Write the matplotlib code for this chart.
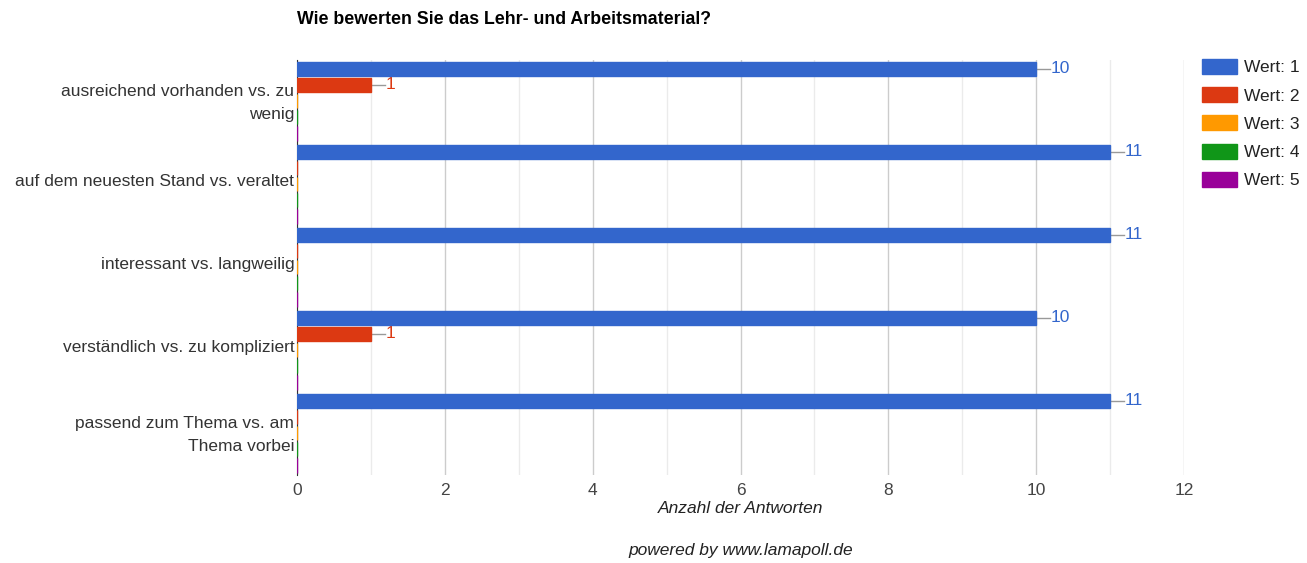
import matplotlib.pyplot as plt
import numpy as np

plt.rcParams['font.family'] = ['Liberation Sans', 'DejaVu Sans']

# Daten
kategorien = ["ausreichend vorhanden vs. zu\nwenig",
              "auf dem neuesten Stand vs. veraltet",
              "interessant vs. langweilig",
              "verständlich vs. zu kompliziert",
              "passend zum Thema vs. am\nThema vorbei"]
serien = ["Wert: 1", "Wert: 2", "Wert: 3", "Wert: 4", "Wert: 5"]
wert1 = [10, 11, 11, 10, 11]
wert2 = [1, 0, 0, 1, 0]
wert3 = [0, 0, 0, 0, 0]
wert4 = [0, 0, 0, 0, 0]
wert5 = [0, 0, 0, 0, 0]
werte = [wert1, wert2, wert3, wert4, wert5]
farben = ["#3366CC", "#DC3912", "#FF9900", "#109618", "#990099"]

fig = plt.figure(figsize=(13.07, 5.63), dpi=100)
ax = fig.add_axes([297/1307, 1 - 475/563, (1184-297)/1307, 415/563])

y = np.arange(len(kategorien))
h = 0.17
step = 0.195
for i, (vals, col) in enumerate(zip(werte, farben)):
    pos = y - 0.48 + h/2 + i*step
    ax.barh(pos, vals, height=h, color=col, edgecolor=col, linewidth=1.0,
            label=serien[i], zorder=5)
    for p, v in zip(pos, vals):
        if v > 0:
            ax.plot([v, v + 0.19], [p, p], color="#999999", lw=1, zorder=3)
            ax.text(v + 0.2, p, str(v), color=col, fontsize=12.5,
                    va="center", ha="left")

ax.set_xlim(0, 12)
ax.set_ylim(len(kategorien) - 0.5, -0.5)
# Beschriftungen etwas oberhalb der Mitte
ax.set_yticks(y - 0.05)
ax.set_yticklabels(kategorien, fontsize=12.5, color="#333333", linespacing=1.7)
ax.set_xticks(range(0, 13, 2))
ax.set_xticks(range(1, 13, 2), minor=True)
ax.tick_params(axis="x", labelsize=12.5, labelcolor="#444444", length=0, pad=6)
ax.tick_params(axis="x", which="minor", length=0)
ax.tick_params(axis="y", length=0, pad=2)
ax.grid(axis="x", which="major", color="#CCCCCC", lw=1, zorder=0)
ax.grid(axis="x", which="minor", color="#EBEBEB", lw=1, zorder=0)
for s in ["top", "right", "bottom"]:
    ax.spines[s].set_visible(False)
ax.spines["left"].set_color("#333333")
ax.spines["left"].set_zorder(4)

ax.set_xlabel("Anzahl der Antworten", fontsize=12.5, style="italic",
              color="#222222", labelpad=2)

fig.text(297/1307, 1 - 19/563, "Wie bewerten Sie das Lehr- und Arbeitsmaterial?",
         fontsize=12.8, fontweight="bold", va="center", ha="left")
fig.text(741/1307, 1 - 551/563, "powered by www.lamapoll.de", fontsize=12.5,
         style="italic", color="#222222", ha="center", va="center")

leg = fig.legend(loc="upper left", bbox_to_anchor=(1195/1307, 1 - 52/563),
                 frameon=False, fontsize=12.5, handlelength=2.0, handleheight=0.95,
                 labelspacing=0.68, handletextpad=0.45, labelcolor="#222222",
                 borderaxespad=0)

plt.savefig("out.png", dpi=100)
